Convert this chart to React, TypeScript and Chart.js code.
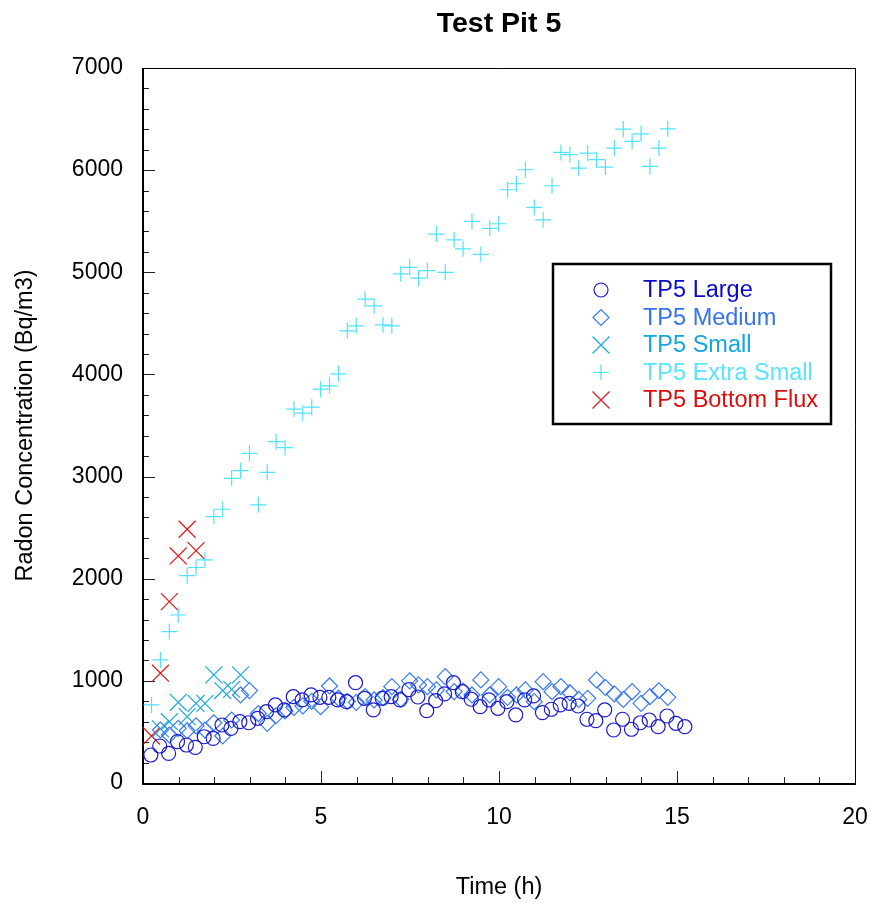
import React, { useEffect, useRef } from 'react';
import { Chart, registerables } from 'chart.js';

Chart.register(...registerables);

// ---- Measurement data: time (h) and radon concentration (Bq/m3) ----
const largeTime = [0.22, 0.47, 0.72, 0.97, 1.22, 1.47, 1.72, 1.97, 2.22, 2.47, 2.72, 2.97, 3.22, 3.47, 3.72, 3.97, 4.22, 4.47, 4.72, 4.97, 5.22, 5.47, 5.72, 5.97, 6.22, 6.47, 6.72, 6.97, 7.22, 7.47, 7.72, 7.97, 8.22, 8.47, 8.72, 8.97, 9.22, 9.47, 9.72, 9.97, 10.22, 10.47, 10.72, 10.97, 11.22, 11.47, 11.72, 11.97, 12.22, 12.47, 12.72, 12.97, 13.22, 13.47, 13.72, 13.97, 14.22, 14.47, 14.72, 14.97, 15.22];
const largeRadon = [274, 362, 290, 405, 372, 349, 453, 437, 568, 535, 600, 590, 633, 698, 764, 715, 845, 813, 862, 839, 839, 813, 796, 982, 829, 715, 829, 845, 813, 914, 842, 708, 806, 872, 982, 894, 820, 747, 813, 731, 796, 666, 813, 852, 689, 722, 764, 780, 754, 624, 610, 715, 519, 624, 526, 590, 617, 551, 656, 584, 551];

const mediumTime = [0.49, 0.74, 0.99, 1.24, 1.49, 1.74, 1.99, 2.24, 2.49, 2.74, 2.99, 3.24, 3.49, 3.74, 3.99, 4.24, 4.49, 4.74, 4.99, 5.24, 5.49, 5.74, 5.99, 6.24, 6.49, 6.74, 6.99, 7.24, 7.49, 7.74, 7.99, 8.24, 8.49, 8.74, 8.99, 9.24, 9.49, 9.74, 9.99, 10.24, 10.49, 10.74, 10.99, 11.24, 11.49, 11.74, 11.99, 12.24, 12.49, 12.74, 12.99, 13.24, 13.49, 13.74, 13.99, 14.24, 14.49, 14.74];
const mediumRadon = [519, 470, 535, 512, 560, 519, 590, 460, 617, 862, 905, 680, 584, 660, 705, 740, 755, 800, 747, 950, 830, 800, 790, 845, 813, 835, 943, 820, 1000, 960, 943, 911, 1041, 894, 900, 862, 1009, 862, 943, 839, 862, 911, 796, 992, 894, 943, 884, 818, 829, 1009, 935, 872, 818, 894, 780, 845, 903, 839];

const smallTime = [0.49, 0.74, 0.99, 1.24, 1.49, 1.74, 1.99, 2.24, 2.49, 2.74];
const smallRadon = [530, 600, 790, 650, 780, 780, 1058, 905, 917, 1058];

const extraSmallTime = [0.24, 0.49, 0.74, 0.99, 1.24, 1.49, 1.74, 1.99, 2.24, 2.49, 2.74, 2.99, 3.24, 3.49, 3.74, 3.99, 4.24, 4.49, 4.74, 4.99, 5.24, 5.49, 5.74, 5.99, 6.24, 6.49, 6.74, 6.99, 7.24, 7.49, 7.74, 7.99, 8.24, 8.49, 8.74, 8.99, 9.24, 9.49, 9.74, 9.99, 10.24, 10.49, 10.74, 10.99, 11.24, 11.49, 11.74, 11.99, 12.24, 12.49, 12.74, 12.99, 13.24, 13.49, 13.74, 13.99, 14.24, 14.49, 14.74];
const extraSmallRadon = [764, 1205, 1482, 1645, 2030, 2110, 2184, 2608, 2680, 2983, 3058, 3228, 2723, 3042, 3342, 3284, 3660, 3621, 3679, 3856, 3888, 4006, 4427, 4476, 4737, 4672, 4486, 4476, 4985, 5049, 4942, 5017, 5374, 5000, 5318, 5230, 5498, 5176, 5430, 5475, 5808, 5867, 6004, 5635, 5514, 5847, 6173, 6151, 6020, 6167, 6102, 6030, 6216, 6402, 6281, 6356, 6036, 6216, 6405];

const fluxTime = [0.24, 0.49, 0.74, 0.99, 1.24, 1.49];
const fluxRadon = [460, 1075, 1776, 2223, 2484, 2275];

const seriesLabels = ['TP5 Large', 'TP5 Medium', 'TP5 Small', 'TP5 Extra Small', 'TP5 Bottom Flux'];

const FONT = '"Liberation Sans", Arial, Helvetica, sans-serif';

type Style = { point: string; radius: number; color: string; text: string };
const styles: Style[] = [
  { point: 'circle', radius: 7, color: '#1a1ad0', text: '#0a0acc' },
  { point: 'rectRot', radius: 8, color: '#3a7af2', text: '#3473ee' },
  { point: 'crossRot', radius: 12, color: '#16aae0', text: '#12a6dc' },
  { point: 'cross', radius: 8, color: '#50e2fc', text: '#58e4fc' },
  { point: 'crossRot', radius: 12, color: '#e01818', text: '#dc0c0c' },
];

const MARK_WIDTH = 1.2;

const toPoints = (xs: number[], ys: number[]) => xs.map((x, i) => ({ x, y: ys[i] }));

function drawMarker(ctx: CanvasRenderingContext2D, s: Style, x: number, y: number) {
  const r = s.radius;
  ctx.beginPath();
  if (s.point === 'circle') {
    ctx.arc(x, y, r, 0, Math.PI * 2);
  } else if (s.point === 'rectRot') {
    ctx.moveTo(x - r, y);
    ctx.lineTo(x, y - r);
    ctx.lineTo(x + r, y);
    ctx.lineTo(x, y + r);
    ctx.closePath();
  } else if (s.point === 'cross') {
    ctx.moveTo(x - r, y);
    ctx.lineTo(x + r, y);
    ctx.moveTo(x, y - r);
    ctx.lineTo(x, y + r);
  } else {
    const d = r * Math.SQRT1_2;
    ctx.moveTo(x - d, y - d);
    ctx.lineTo(x + d, y + d);
    ctx.moveTo(x + d, y - d);
    ctx.lineTo(x - d, y + d);
  }
  ctx.strokeStyle = s.color;
  ctx.lineWidth = MARK_WIDTH;
  ctx.stroke();
}

// Inward tick marks and the plot frame
const frameTicks = {
  id: 'frameTicks',
  beforeDatasetsDraw(chart: any) {
    const { ctx, chartArea } = chart;
    const { left, right, top, bottom } = chartArea;
    const xs = chart.scales.x;
    const ys = chart.scales.y;
    ctx.save();
    ctx.strokeStyle = '#222';
    ctx.lineWidth = 1;
    ctx.beginPath();
    xs.ticks.forEach((t: any) => {
      const px = Math.round(xs.getPixelForValue(t.value)) + 0.5;
      const len = t.value % 5 === 0 ? 12 : 6;
      ctx.moveTo(px, bottom);
      ctx.lineTo(px, bottom - len);
    });
    ys.ticks.forEach((t: any) => {
      const py = Math.round(ys.getPixelForValue(t.value)) + 0.5;
      const len = t.value % 1000 === 0 ? 12 : 6;
      ctx.moveTo(left, py);
      ctx.lineTo(left + len, py);
    });
    ctx.stroke();
    ctx.strokeStyle = '#000';
    ctx.lineWidth = 1;
    ctx.beginPath();
    ctx.moveTo(left, top + 0.5);
    ctx.lineTo(right + 0.5, top + 0.5);
    ctx.lineTo(right + 0.5, bottom);
    ctx.stroke();
    ctx.lineWidth = 2;
    ctx.beginPath();
    ctx.moveTo(left, top);
    ctx.lineTo(left, bottom + 1);
    ctx.lineTo(right + 1, bottom + 1);
    ctx.stroke();
    ctx.restore();
  },
};

// Boxed legend inside the plot area
const boxLegend = {
  id: 'boxLegend',
  afterDatasetsDraw(chart: any) {
    const { ctx, chartArea } = chart;
    const bx = chartArea.left + 410;
    const by = chartArea.top + 196;
    const bw = 278;
    const bh = 160;
    ctx.save();
    ctx.fillStyle = '#fff';
    ctx.fillRect(bx, by, bw, bh);
    ctx.strokeStyle = '#000';
    ctx.lineWidth = 2.5;
    ctx.strokeRect(bx, by, bw, bh);
    ctx.font = `23.5px ${FONT}`;
    ctx.textBaseline = 'middle';
    ctx.textAlign = 'left';
    seriesLabels.forEach((label, i) => {
      const cy = by + 26 + i * 27.5;
      drawMarker(ctx, styles[i], bx + 48, cy);
      ctx.fillStyle = styles[i].text;
      ctx.fillText(label, bx + 90, cy + 1);
    });
    ctx.restore();
  },
};

export default function App() {
  const canvasRef = useRef<HTMLCanvasElement | null>(null);

  useEffect(() => {
    if (!canvasRef.current) return;
    const series = [
      toPoints(largeTime, largeRadon),
      toPoints(mediumTime, mediumRadon),
      toPoints(smallTime, smallRadon),
      toPoints(extraSmallTime, extraSmallRadon),
      toPoints(fluxTime, fluxRadon),
    ];
    const chart = new Chart(canvasRef.current, {
      type: 'scatter',
      data: {
        datasets: series.map((data, i) => ({
          label: seriesLabels[i],
          data,
          showLine: false,
          pointStyle: styles[i].point as any,
          pointRadius: styles[i].radius,
          pointBorderWidth: MARK_WIDTH,
          pointBorderColor: styles[i].color,
          pointBackgroundColor: 'rgba(0,0,0,0)',
          borderColor: styles[i].color,
          backgroundColor: 'rgba(0,0,0,0)',
        })),
      },
      options: {
        responsive: false,
        animation: false,
        devicePixelRatio: 1,
        layout: { padding: { top: 0, left: 0, right: 18, bottom: 0 } },
        plugins: {
          legend: { display: false },
          tooltip: { enabled: false },
          title: {
            display: true,
            text: 'Test Pit 5',
            fullSize: false,
            color: '#000',
            font: { family: FONT, size: 28.5, weight: 'bold' },
            padding: { top: 7, bottom: 26.8 },
          },
        },
        scales: {
          x: {
            type: 'linear',
            min: 0,
            max: 20,
            afterFit: (s: any) => {
              s.height = 124;
              s.paddingLeft = 0;
              s.paddingRight = 0;
            },
            grid: { display: false, drawTicks: false },
            border: { display: false },
            ticks: {
              stepSize: 1,
              autoSkip: false,
              maxRotation: 0,
              padding: 21,
              color: '#000',
              font: { family: FONT, size: 23 },
              callback: (v: any) => (Number(v) % 5 === 0 ? String(v) : ''),
            },
            title: {
              display: true,
              text: 'Time (h)',
              color: '#000',
              font: { family: FONT, size: 23.5 },
              padding: { top: 0, bottom: 5 },
            },
          },
          y: {
            type: 'linear',
            min: 0,
            max: 7000,
            afterFit: (s: any) => {
              s.width = 143;
              s.paddingTop = 0;
              s.paddingBottom = 0;
            },
            grid: { display: false, drawTicks: false },
            border: { display: false },
            ticks: {
              stepSize: 200,
              autoSkip: false,
              padding: 20,
              color: '#000',
              font: { family: FONT, size: 23 },
              callback: (v: any) => (Number(v) % 1000 === 0 ? String(v) : ''),
            },
            title: {
              display: true,
              text: 'Radon Concentration (Bq/m3)',
              color: '#000',
              font: { family: FONT, size: 23.5 },
              padding: { top: 11, bottom: 0 },
            },
          },
        },
      },
      plugins: [frameTicks, boxLegend],
    });
    return () => chart.destroy();
  }, []);

  return (
    <div style={{ position: 'absolute', left: 0, top: 0, width: 873, height: 907, background: '#fff' }}>
      <canvas ref={canvasRef} width={873} height={907} />
    </div>
  );
}
